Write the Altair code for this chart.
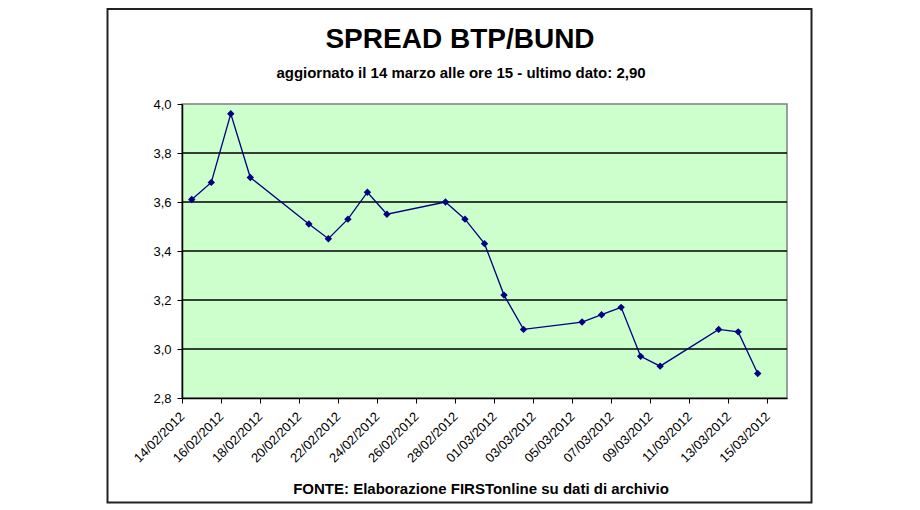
import altair as alt
import pandas as pd

# ---- data ----
dates = ["2012-02-14", "2012-02-15", "2012-02-16", "2012-02-17", "2012-02-20",
         "2012-02-21", "2012-02-22", "2012-02-23", "2012-02-24", "2012-02-27",
         "2012-02-28", "2012-02-29", "2012-03-01", "2012-03-02", "2012-03-05",
         "2012-03-06", "2012-03-07", "2012-03-08", "2012-03-09", "2012-03-12",
         "2012-03-13", "2012-03-14"]
spread = [3.61, 3.68, 3.96, 3.70, 3.51, 3.45, 3.53, 3.64, 3.55, 3.60,
          3.53, 3.43, 3.22, 3.08, 3.11, 3.14, 3.17, 2.97, 2.93, 3.08,
          3.07, 2.90]
tick_dates = [(2012, 2, 14), (2012, 2, 16), (2012, 2, 18), (2012, 2, 20),
              (2012, 2, 22), (2012, 2, 24), (2012, 2, 26), (2012, 2, 28),
              (2012, 3, 1), (2012, 3, 3), (2012, 3, 5), (2012, 3, 7),
              (2012, 3, 9), (2012, 3, 11), (2012, 3, 13), (2012, 3, 15)]
y_ticks = [2.8, 3.0, 3.2, 3.4, 3.6, 3.8, 4.0]
grid_vals = [3.0, 3.2, 3.4, 3.6, 3.8]

title = "SPREAD BTP/BUND"
subtitle = "aggiornato il 14 marzo alle ore 15 - ultimo dato: 2,90"
footer = "FONTE: Elaborazione FIRSTonline su dati di archivio"

FONT = "Liberation Sans"
NAVY = "#000080"

df = pd.DataFrame({"date": [d + "T12:00:00Z" for d in dates], "value": spread})

x_scale = alt.Scale(type="utc",
                    domain=[alt.DateTime(year=2012, month=2, date=14, utc=True),
                            alt.DateTime(year=2012, month=3, date=16, utc=True)])
y_scale = alt.Scale(domain=[2.8, 4.0], nice=False, zero=False)

x_axis = alt.Axis(values=[alt.DateTime(year=y, month=m, date=d, utc=True) for (y, m, d) in tick_dates],
                  labelExpr="utcFormat(datum.value, '%d/%m/%Y')",
                  labelAngle=-45, labelAlign="right", labelBaseline="middle",
                  labelFont=FONT, labelFontSize=13, labelColor="black",
                  labelPadding=11, tickSize=5, tickColor="black",
                  domainColor="black", domainWidth=1.5, grid=False, title=None,
                  labelOverlap=False, labelBound=False, labelFlush=False)
y_axis = alt.Axis(values=y_ticks,
                  labelExpr="replace(format(datum.value, '.1f'), '.', ',')",
                  labelFont=FONT, labelFontSize=13, labelColor="black",
                  labelPadding=6, tickSize=5, tickColor="black",
                  domainColor="black", domainWidth=1.5, grid=False, title=None)

base = alt.Chart(df)

grid = alt.Chart(pd.DataFrame({"g": grid_vals})).mark_rule(
    color="black", strokeWidth=1.5).encode(y=alt.Y("g:Q", scale=y_scale, axis=y_axis))

line = base.mark_line(color=NAVY, strokeWidth=1.3).encode(
    x=alt.X("date:T", scale=x_scale, axis=x_axis),
    y=alt.Y("value:Q", scale=y_scale, axis=y_axis))

points = base.mark_point(shape="diamond", filled=True, color=NAVY, size=55, opacity=1).encode(
    x=alt.X("date:T", scale=x_scale, axis=x_axis),
    y=alt.Y("value:Q", scale=y_scale, axis=y_axis))

def label(txt, x, y, size):
    return alt.Chart(pd.DataFrame({"t": [txt]})).mark_text(
        font=FONT, fontSize=size, fontWeight="bold", color="black",
        align="center", baseline="middle").encode(
        text="t:N", x=alt.value(x), y=alt.value(y))

t1 = label(title, 278, -64, 28)
t2 = label(subtitle, 279, -31, 15)
t3 = label(footer, 299, 385, 15)

frame = alt.Chart(pd.DataFrame({"a": [0]})).mark_rect(
    fillOpacity=0, stroke="#222222", strokeWidth=2).encode(
    x=alt.value(-74.5), x2=alt.value(629.5), y=alt.value(-95), y2=alt.value(398.5))

chart = alt.layer(grid, line, points, t1, t2, t3, frame).properties(
    width=605, height=294,
    autosize=alt.AutoSizeParams(type="none"),
    padding={"left": 174, "top": 96, "right": 125, "bottom": 106},
    background="white",
).configure_view(fill="#CCFFCC", stroke="#808080", strokeWidth=1.5)

chart.save("out.html", embed_options={"renderer": "svg", "actions": False})
